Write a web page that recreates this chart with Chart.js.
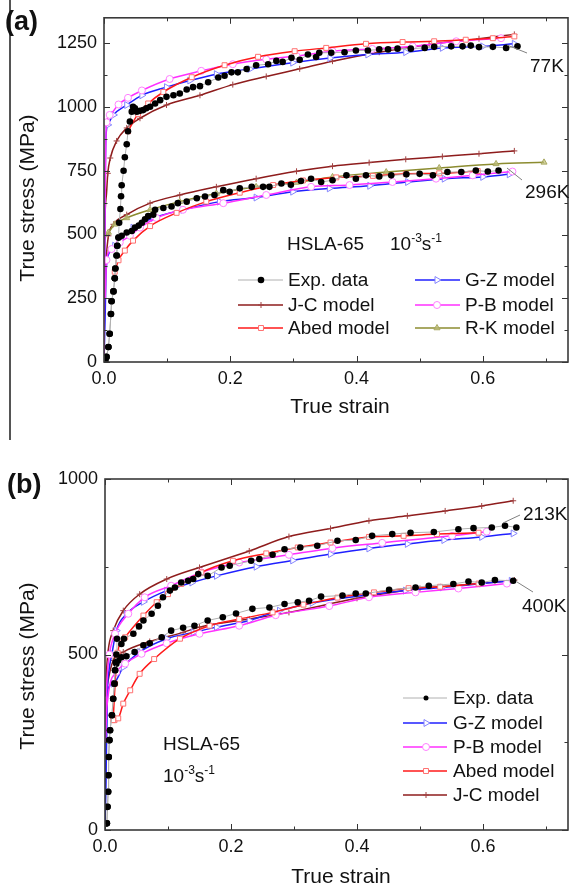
<!DOCTYPE html>
<html><head><meta charset="utf-8">
<script src="https://cdn.jsdelivr.net/npm/chart.js@4.4.0/dist/chart.umd.min.js"></script>
<style>
body{margin:0;width:574px;height:886px;background:#fff;position:relative;overflow:hidden;font-family:"Liberation Sans",Arial,sans-serif;}
#wa{position:absolute;left:0;top:0;width:574px;height:440px;}
#wb{position:absolute;left:0;top:450px;width:574px;height:436px;}
.t{position:absolute;white-space:nowrap;color:#111;line-height:1;}
.t sup{font-size:12px;vertical-align:0;position:relative;top:-8px;}
svg{position:absolute;left:0;top:0;}
</style></head><body>
<div id="wa"><canvas id="ca"></canvas></div>
<div id="wb"><canvas id="cb"></canvas></div>
<div style="position:absolute;left:9px;top:0;width:1.5px;height:440px;background:#555"></div>
<svg width="574" height="886"><g stroke="#808080" stroke-width="1">
<line x1="507" y1="45" x2="527" y2="53"/><line x1="507" y1="168" x2="522" y2="180"/>
<line x1="503" y1="523" x2="520" y2="515"/><line x1="517" y1="582" x2="533" y2="592"/></g></svg>
<div class="t" style="left:5px;top:8px;font-weight:bold;font-size:27px">(a)</div>
<div class="t" style="left:7px;top:471px;font-weight:bold;font-size:27px">(b)</div>
<div class="t" style="left:26px;top:198px;font-size:21px;transform:translate(-50%,-50%) rotate(-90deg)">True stress (MPa)</div>
<div class="t" style="left:26px;top:666px;font-size:21px;transform:translate(-50%,-50%) rotate(-90deg)">True stress (MPa)</div>
<div class="t" style="left:340px;top:395px;font-size:21px;transform:translateX(-50%)">True strain</div>
<div class="t" style="left:341px;top:865px;font-size:21px;transform:translateX(-50%)">True strain</div>
<div class="t" style="left:287px;top:234px;font-size:19px">HSLA-65</div>
<div class="t" style="left:390px;top:234px;font-size:19px">10<sup>-3</sup>s<sup>-1</sup></div>
<div class="t" style="left:163px;top:734px;font-size:19px">HSLA-65</div>
<div class="t" style="left:163px;top:766px;font-size:19px">10<sup>-3</sup>s<sup>-1</sup></div>
<div class="t" style="left:530px;top:56px;font-size:19px">77K</div>
<div class="t" style="left:525px;top:182px;font-size:19px">296K</div>
<div class="t" style="left:523px;top:504px;font-size:19px">213K</div>
<div class="t" style="left:522px;top:596px;font-size:19px">400K</div>
<script>
// ---------- tick values ----------
const strainTicks = [0, 0.2, 0.4, 0.6];
const strainMinor = [0.1, 0.3, 0.5, 0.7];
const stressTicksA = [0, 250, 500, 750, 1000, 1250];
const stressMinorA = [125, 375, 625, 875, 1125];
const stressTicksB = [0, 500, 1000];
const stressMinorB = [250, 750];
const legendA = ["Exp. data", "J-C model", "Abed model", "G-Z model", "P-B model", "R-K model"];
const legendB = ["Exp. data", "G-Z model", "P-B model", "Abed model", "J-C model"];

// ---------- panel (a): 77K ----------
const exp77X = [0.002,0.004,0.007,0.009,0.011,0.012,0.015,0.017,0.018,0.020,
0.021,0.023,0.024,0.026,0.027,0.028,0.031,0.033,0.036,0.038,
0.041,0.044,0.046,0.049,0.052,0.057,0.062,0.067,0.073,0.081,
0.089,0.099,0.110,0.120,0.131,0.141,0.152,0.165,0.181,0.191,
0.202,0.212,0.226,0.241,0.260,0.273,0.283,0.297,0.310,0.323,
0.336,0.341,0.360,0.381,0.399,0.418,0.436,0.450,0.465,0.486,
0.508,0.523,0.550,0.568,0.581,0.594,0.616,0.637,0.655];
const exp77Y = [5,20,59,111,188,238,277,328,367,418,
456,488,546,600,650,693,750,803,854,905,
943,982,1001,995,982,985,988,995,1001,1014,
1027,1040,1046,1053,1069,1078,1082,1097,1116,1123,
1136,1136,1149,1164,1168,1181,1177,1193,1185,1206,
1196,1213,1213,1215,1222,1222,1226,1226,1229,1229,
1232,1236,1238,1238,1241,1235,1236,1232,1238];
const jc77X = [0.0005,0.002,0.004,0.006,0.010,0.020,0.036,0.057,0.099,0.152,0.204,0.257,0.310,0.362,0.436,0.515,0.594,0.650];
const jc77Y = [450,600,661,740,800,867,918,956,1008,1046,1088,1120,1150,1180,1215,1245,1268,1285];
const gz77X = [0,0.001,0.002,0.003,0.006,0.015,0.036,0.060,0.099,0.136,0.178,0.231,0.299,0.358,0.418,0.478,0.536,0.600,0.650];
const gz77Y = [0,300,700,880,930,969,1008,1046,1078,1104,1129,1149,1174,1192,1206,1215,1232,1238,1248];
const pb77X = [0,0.002,0.004,0.009,0.023,0.038,0.060,0.104,0.154,0.204,0.257,0.305,0.362,0.425,0.489,0.558,0.629];
const pb77Y = [0,700,940,969,1010,1036,1065,1110,1142,1168,1187,1200,1219,1228,1238,1258,1270];
const ab77X = [0.038,0.054,0.070,0.094,0.139,0.191,0.244,0.302,0.352,0.415,0.473,0.523,0.573,0.616,0.650];
const ab77Y = [905,973,1014,1059,1117,1164,1197,1219,1232,1248,1255,1258,1264,1270,1277];

// ---------- panel (a): 296K ----------
const exp296X = [0.002,0.004,0.007,0.009,0.011,0.012,0.015,0.017,0.018,0.020,
0.021,0.023,0.028,0.036,0.044,0.049,0.055,0.060,0.065,0.070,
0.078,0.081,0.094,0.107,0.117,0.131,0.147,0.160,0.175,0.189,
0.199,0.215,0.234,0.252,0.262,0.281,0.296,0.312,0.328,0.344,
0.362,0.384,0.399,0.415,0.436,0.455,0.479,0.500,0.521,0.544,
0.566,0.589,0.608,0.625];
const exp296Y = [5,20,59,111,188,238,277,328,367,418,
456,488,495,508,514,527,535,546,560,572,
578,597,604,610,623,629,642,649,655,674,
668,681,687,687,687,700,695,710,719,706,
713,732,719,732,728,732,736,738,732,745,
745,751,747,751];
const jc296X = [0.001,0.003,0.007,0.015,0.036,0.073,0.120,0.178,0.241,0.305,0.362,0.420,0.478,0.536,0.594,0.650];
const jc296Y = [300,392,495,540,578,623,655,687,719,748,768,782,795,806,817,828];
const rk296X = [0.001,0.004,0.007,0.017,0.036,0.073,0.120,0.178,0.241,0.305,0.362,0.447,0.531,0.621,0.697];
const rk296Y = [480,501,508,540,565,597,629,661,687,704,726,745,761,777,783];
const ab296X = [0.017,0.023,0.033,0.046,0.073,0.115,0.162,0.215,0.268,0.315,0.368,0.426,0.478,0.531,0.592];
const ab296Y = [354,399,437,476,533,585,629,664,694,712,724,730,738,740,749];
const gz296X = [0,0.002,0.003,0.004,0.009,0.017,0.025,0.046,0.078,0.125,0.183,0.241,0.299,0.357,0.421,0.481,0.539,0.600,0.642];
const gz296Y = [0,200,330,380,431,456,482,527,565,597,629,645,668,681,691,706,719,726,736];
const pb296X = [0.002,0.004,0.012,0.025,0.041,0.057,0.083,0.125,0.189,0.257,0.328,0.389,0.457,0.526,0.584,0.647];
const pb296Y = [250,400,443,469,495,527,565,597,623,655,687,694,706,719,732,747];

// ---------- panel (b): 213K ----------
const exp213X = [0.003,0.004,0.005,0.0055,0.006,0.007,0.008,0.011,0.013,0.015,
0.016,0.017,0.018,0.019,0.026,0.030,0.045,0.054,0.061,0.074,
0.084,0.092,0.103,0.111,0.121,0.132,0.140,0.148,0.163,0.185,
0.198,0.232,0.245,0.266,0.285,0.310,0.337,0.369,0.398,0.424,
0.456,0.485,0.522,0.561,0.585,0.614,0.635,0.653];
const exp213Y = [19,66,109,156,208,256,284,327,374,417,
455,478,500,545,530,545,559,580,597,616,
639,663,682,691,705,710,715,729,724,748,
753,767,772,784,800,805,810,824,826,838,
843,847,849,857,860,862,867,862];
const jc213X = [0.001,0.002,0.005,0.013,0.029,0.055,0.098,0.150,0.229,0.292,0.358,0.419,0.480,0.540,0.598,0.648];
const jc213Y = [380,440,511,568,625,672,715,748,795,836,859,881,895,909,923,938];
const gz213X = [0,0.002,0.004,0.006,0.011,0.018,0.034,0.061,0.098,0.138,0.177,0.240,0.298,0.358,0.419,0.480,0.538,0.598,0.648];
const gz213Y = [0,200,400,450,502,568,615,650,682,705,724,750,768,786,802,815,826,835,845];
const pb213X = [0.001,0.003,0.007,0.016,0.037,0.063,0.105,0.153,0.213,0.292,0.361,0.440,0.551,0.606];
const pb213Y = [300,420,500,559,616,663,696,734,762,784,803,818,838,850];
const ab213X = [0.013,0.016,0.020,0.032,0.061,0.082,0.100,0.121,0.153,0.203,0.256,0.306,0.358,0.419,0.474,0.527,0.593];
const ab213Y = [313,417,505,549,611,649,672,701,734,767,788,805,819,835,838,843,847];

// ---------- panel (b): 400K ----------
const exp400X = [0.003,0.004,0.005,0.0055,0.006,0.007,0.008,0.011,0.013,0.015,
0.016,0.018,0.021,0.026,0.034,0.047,0.061,0.071,0.090,0.105,
0.124,0.142,0.163,0.187,0.208,0.234,0.261,0.285,0.306,0.324,
0.343,0.377,0.398,0.414,0.451,0.493,0.514,0.553,0.577,0.598,
0.619,0.648];
const exp400Y = [19,66,109,156,208,256,284,327,374,417,
455,474,483,492,495,507,526,532,549,568,
576,582,597,606,617,630,634,644,649,653,
665,668,674,674,684,691,696,701,708,705,
712,710];
const jc400X = [0.001,0.003,0.005,0.013,0.029,0.071,0.124,0.150,0.229,0.292,0.400,0.500,0.600,0.650];
const jc400Y = [300,400,426,483,507,537,563,578,601,620,660,688,703,712];
const gz400X = [0,0.002,0.003,0.013,0.029,0.055,0.098,0.140,0.177,0.229,0.277,0.329,0.419,0.477,0.535,0.598,0.645];
const gz400Y = [0,250,388,417,464,507,545,563,578,597,625,647,670,682,691,702,710];
const pb400X = [0.001,0.003,0.018,0.032,0.058,0.098,0.150,0.213,0.271,0.356,0.419,0.493,0.561,0.638];
const pb400Y = [250,350,450,474,502,532,559,582,612,638,663,677,688,702];
const ab400X = [0.015,0.021,0.029,0.040,0.055,0.078,0.119,0.166,0.213,0.266,0.315,0.369,0.427,0.482,0.532,0.593];
const ab400Y = [313,318,360,398,445,487,545,582,601,620,642,662,677,689,693,702];

// ---------- styles ----------
const FONT = '"Liberation Sans", Arial, sans-serif';
const STY = {
  exp: {borderColor:'#b0b0b0', borderWidth:1, pointStyle:'circle', pointRadius:3.3, pointBackgroundColor:'#000', pointBorderColor:'#000', pointBorderWidth:0, cubicInterpolationMode:'default', tension:0},
  jc:  {borderColor:'#8e1c1c', borderWidth:1.5, pointStyle:'cross', pointRadius:3, pointBorderColor:'#a04040', pointBackgroundColor:'#a04040', pointBorderWidth:1},
  ab:  {borderColor:'#ff1a1a', borderWidth:1.5, pointStyle:'rect', pointRadius:3.5, pointBorderColor:'#ff7070', pointBackgroundColor:'#fff', pointBorderWidth:1},
  gz:  {borderColor:'#2020ff', borderWidth:1.5, pointStyle:'triangle', pointRotation:90, pointRadius:4, pointBorderColor:'#8585ff', pointBackgroundColor:'#fff', pointBorderWidth:1},
  pb:  {borderColor:'#ff30ff', borderWidth:1.5, pointStyle:'circle', pointRadius:3.5, pointBorderColor:'#ff80ff', pointBackgroundColor:'#fff', pointBorderWidth:1},
  rk:  {borderColor:'#8c8c30', borderWidth:1.5, pointStyle:'triangle', pointRadius:3.5, pointBorderColor:'#a8a860', pointBackgroundColor:'rgba(190,190,120,0.7)', pointBorderWidth:1}
};
function pts(xs, ys){ return xs.map((x,i)=>({x:x, y:ys[i]})); }
function ds(kind, xs, ys, skip){
  const s = STY[kind];
  const o = Object.assign({data:pts(xs,ys), fill:false, cubicInterpolationMode:'monotone', skipMarkers:skip||0}, s);
  const r = s.pointRadius;
  o.pointRadius = c => (c.dataIndex < c.dataset.skipMarkers ? 0 : r);
  return o;
}

const framePlugin = {
  id:'frame',
  afterDraw(chart, args, o){
    const {ctx, chartArea:a, scales:{x, y}} = chart;
    ctx.save();
    ctx.strokeStyle = '#333'; ctx.lineWidth = 1;
    const L = (x1,y1,x2,y2)=>{ctx.beginPath();ctx.moveTo(x1,y1);ctx.lineTo(x2,y2);ctx.stroke();};
    const tx = (vals,len)=>vals.forEach(v=>{const p=Math.round(x.getPixelForValue(v))+0.5; L(p,a.bottom,p,a.bottom-len); L(p,a.top,p,a.top+len);});
    const ty = (vals,len)=>vals.forEach(v=>{const p=Math.round(y.getPixelForValue(v))+0.5; L(a.left,p,a.left+len,p); L(a.right,p,a.right-len,p);});
    tx(o.xMajor,6); tx(o.xMinor,3.5); ty(o.yMajor,6); ty(o.yMinor,3.5);
    ctx.lineWidth = 1.6; ctx.strokeStyle = '#3a3a3a';
    ctx.strokeRect(a.left, a.top, a.right-a.left, a.bottom-a.top);
    // legend
    const H = Chart.helpers;
    o.legend.forEach(e=>{
      const d = chart.data.datasets[e.ds];
      ctx.lineWidth = d.borderWidth; ctx.strokeStyle = d.borderColor;
      L(e.x1, e.y, e.x2, e.y);
      ctx.fillStyle = d.pointBackgroundColor; ctx.strokeStyle = d.pointBorderColor; ctx.lineWidth = d.pointBorderWidth;
      H.drawPoint(ctx, {pointStyle:d.pointStyle, radius:e.r||STY[e.k].pointRadius, rotation:d.pointRotation||0, borderWidth:d.pointBorderWidth}, e.xm, e.y);
      ctx.fillStyle = '#111'; ctx.font = '19px ' + FONT; ctx.textBaseline = 'middle'; ctx.textAlign = 'left';
      ctx.fillText(e.label, e.tx, e.y + 1);
    });
    ctx.restore();
  }
};

function axes(ymax, yTicks, xH, yW){
  return {
    x: {type:'linear', min:0, max:0.735,
        afterBuildTicks: s => { s.ticks = strainTicks.map(v=>({value:v})); },
        afterFit: s => { s.height = xH; },
        ticks:{callback:v=>v.toFixed(1), font:{size:18, family:FONT}, color:'#111', padding:6, maxRotation:0, autoSkip:false},
        grid:{display:false, drawTicks:false}, border:{display:false}},
    y: {type:'linear', min:0, max:ymax,
        afterBuildTicks: s => { s.ticks = yTicks.map(v=>({value:v})); },
        afterFit: s => { s.width = yW; },
        ticks:{callback:v=>String(v), font:{size:18, family:FONT}, color:'#111', padding:7, autoSkip:false},
        grid:{display:false, drawTicks:false}, border:{display:false}}
  };
}
const common = {responsive:true, maintainAspectRatio:false, animation:false, events:[],
  plugins:{legend:{display:false}, tooltip:{enabled:false}}};

// ---------- chart (a) ----------
const dsA = [
  ds('exp', exp77X, exp77Y), ds('exp', exp296X, exp296Y),
  ds('ab', ab77X, ab77Y, 0), ds('ab', ab296X, ab296Y, 0),
  ds('pb', pb77X, pb77Y, 2), ds('pb', pb296X, pb296Y, 1),
  ds('gz', gz77X, gz77Y, 4), ds('gz', gz296X, gz296Y, 5),
  ds('rk', rk296X, rk296Y, 2),
  ds('jc', jc77X, jc77Y, 3), ds('jc', jc296X, jc296Y, 2)
];
new Chart(document.getElementById('ca'), {
  type:'line',
  data:{datasets:dsA},
  options:Object.assign({}, common, {
    layout:{padding:{left:0, right:6, top:10, bottom:0}},
    scales:axes(1350, stressTicksA, 78, 104),
    plugins:Object.assign({}, common.plugins, {frame:{
      xMajor:strainTicks, xMinor:strainMinor, yMajor:stressTicksA, yMinor:stressMinorA,
      legend:[
        {ds:0, k:'exp', x1:238, x2:283, xm:261, y:280, tx:288, label:legendA[0]},
        {ds:9, k:'jc',  x1:238, x2:283, xm:261, y:305, tx:288, label:legendA[1]},
        {ds:2, k:'ab',  x1:238, x2:283, xm:261, y:328, tx:288, label:legendA[2]},
        {ds:6, k:'gz',  x1:415, x2:460, xm:437, y:280, tx:465, label:legendA[3]},
        {ds:4, k:'pb',  x1:415, x2:460, xm:437, y:305, tx:465, label:legendA[4]},
        {ds:8, k:'rk',  x1:415, x2:460, xm:437, y:328, tx:465, label:legendA[5]}
      ]}})
  }),
  plugins:[framePlugin]
});

// ---------- chart (b) ----------
const dsB = [
  ds('exp', exp213X, exp213Y), ds('exp', exp400X, exp400Y),
  ds('ab', ab213X, ab213Y, 0), ds('ab', ab400X, ab400Y, 0),
  ds('pb', pb213X, pb213Y, 2), ds('pb', pb400X, pb400Y, 2),
  ds('gz', gz213X, gz213Y, 4), ds('gz', gz400X, gz400Y, 3),
  ds('jc', jc213X, jc213Y, 3), ds('jc', jc400X, jc400Y, 3)
];
new Chart(document.getElementById('cb'), {
  type:'line',
  data:{datasets:dsB},
  options:Object.assign({}, common, {
    layout:{padding:{left:0, right:6, top:29, bottom:0}},
    scales:axes(1000, stressTicksB, 56, 105),
    plugins:Object.assign({}, common.plugins, {frame:{
      xMajor:strainTicks, xMinor:strainMinor, yMajor:stressTicksB, yMinor:stressMinorB,
      legend:[
        {ds:0, k:'exp', x1:403, x2:447, xm:426, y:248, tx:453, label:legendB[0], r:2.5},
        {ds:6, k:'gz',  x1:403, x2:447, xm:426, y:273, tx:453, label:legendB[1]},
        {ds:4, k:'pb',  x1:403, x2:447, xm:426, y:297, tx:453, label:legendB[2]},
        {ds:2, k:'ab',  x1:403, x2:447, xm:426, y:321, tx:453, label:legendB[3]},
        {ds:8, k:'jc',  x1:403, x2:447, xm:426, y:345, tx:453, label:legendB[4]}
      ]}})
  }),
  plugins:[framePlugin]
});
</script>
</body></html>
